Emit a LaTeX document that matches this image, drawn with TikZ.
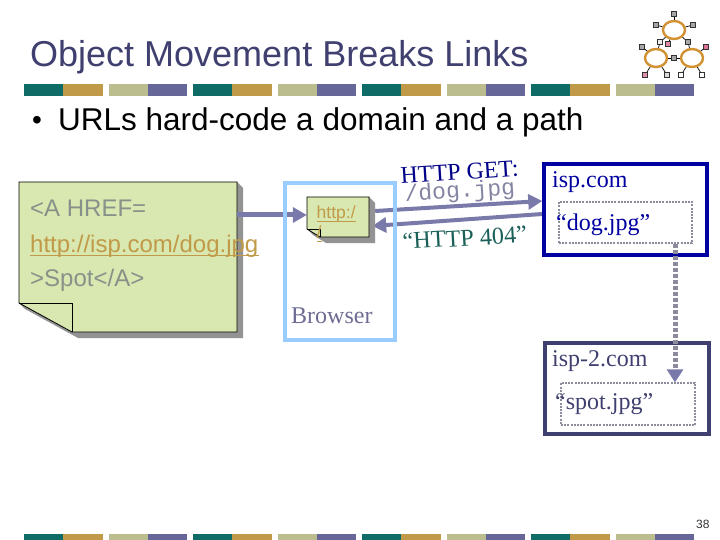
\documentclass[tikz,border=0pt]{standalone}
\usepackage{fontspec}
\setmainfont{Liberation Serif}
\setsansfont{Liberation Sans}
\setmonofont{Liberation Mono}
\usetikzlibrary{arrows.meta,shapes.geometric}

\definecolor{barteal}{HTML}{0F6B66}
\definecolor{bargold}{HTML}{C09A48}
\definecolor{barkhaki}{HTML}{BBBD8F}
\definecolor{barpurple}{HTML}{666699}
\definecolor{titleink}{HTML}{404070}
\definecolor{notegreen}{HTML}{D9E8B0}
\definecolor{noteink}{HTML}{87918A}
\definecolor{arrowink}{HTML}{7A7AAA}
\definecolor{ispblue}{HTML}{0000A0}
\definecolor{browserblue}{HTML}{99CCFF}
\definecolor{replyink}{HTML}{1A6058}
\definecolor{hopgray}{HTML}{8C8C9C}

\newcommand{\px}[1]{\fontsize{#1}{#1}\selectfont}

\tikzset{
  label/.style={anchor=base west,inner sep=0pt},
  sans24/.style={label,font=\sffamily\px{24},text=noteink},
  serif24/.style={label,font=\px{24}},
  link/.style={label,font=\sffamily,text=bargold},
  wire/.style={arrowink,line width=4pt,-{Triangle[length=14pt,width=15pt]}},
  hopwire/.style={hopgray,line width=5pt,dash pattern=on 4pt off 2pt,-{Triangle[length=13pt,width=16pt,color=arrowink]}},
  objbox/.style={draw=hopgray,line width=1.3pt,dash pattern=on 2pt off 1.2pt,inner sep=0pt},
  hostbox/.style={line width=3.5pt,inner sep=0pt},
  hub/.style={ellipse,draw=bargold!70!orange,fill=white,line width=2.4pt,minimum width=22pt,minimum height=18pt,inner sep=0pt},
  leaf/.style={rectangle,draw=black!80,fill=#1,line width=.7pt,minimum size=5pt,inner sep=0pt},
  leaf/.default={gray!70},
}

% sticky note: #1 left, #2 top, #3 right, #4 bottom, #5 fold x, #6 fold y, #7 shadow
\newcommand{\stickynote}[7]{
  \fill [gray!85] (#1+#7,#6+#7) -- (#5+#7,#4+#7) -- (#3+#7,#4+#7) -- (#3+#7,#2+#7) -- (#3,#2) -- (#1,#6) -- cycle;
  \draw [fill=notegreen,line width=.8pt] (#1,#2) -- (#3,#2) -- (#3,#4) -- (#5,#4) -- (#1,#6) -- cycle;
  \draw [line width=.8pt] (#1,#6) -- (#5,#6) -- (#5,#4);
}

\begin{document}
\begin{tikzpicture}[x=1pt,y=-1pt]
\useasboundingbox (0,0) rectangle (720,540);

% bars, top and bottom
\foreach \ytop/\ybot in {84/96,534/540}
  \foreach \k in {0,1,2,3} {
    \fill [barteal] (24+\k*169,\ytop) rectangle (63.2+\k*169,\ybot);
    \fill [bargold] (63.2+\k*169,\ytop) rectangle (102.5+\k*169,\ybot);
    \fill [barkhaki] (108.5+\k*169,\ytop) rectangle (147.7+\k*169,\ybot);
    \fill [barpurple] (147.7+\k*169,\ytop) rectangle (187+\k*169,\ybot);
  }

% title and bullet
\node [label,font=\sffamily\px{36},text=titleink] (title) at (30,67) {Object Movement Breaks Links};
\node [label,font=\sffamily\px{28},text=black] (bullet) at (32,130) {•};
\node [label,font=\sffamily\px{31.5},text=black] (point) at (58,131) {URLs hard-code a domain and a path};
\node [label,font=\sffamily\px{12},text=black!80] (pageno) at (696,528) {38};

% network icon
\node [hub] (hubA) at (674,30) {};
\node [hub] (hubL) at (656,58) {};
\node [hub] (hubR) at (692,58) {};
\node [leaf] (a1) at (674,14) {};
\node [leaf] (a2) at (656,25) {};
\node [leaf] (a3) at (693,25) {};
\node [leaf=white!85!gray] (a4) at (660,42) {};
\node [leaf=purple!45] (a5) at (668,44) {};
\node [leaf] (a6) at (688,42) {};
\node [leaf] (l1) at (642,47) {};
\node [leaf=purple!55] (r1) at (706,47) {};
\node [leaf] (m1) at (674,58) {};
\node [leaf=purple!45] (l2) at (645,75) {};
\node [leaf=gray!30] (l3) at (667,75) {};
\node [leaf=white] (r2) at (681,75) {};
\node [leaf=white] (r3) at (702,75) {};
\foreach \from/\to in {a1/hubA,a2/hubA,a3/hubA,a4/hubA,a5/hubA,a6/hubA,a4/hubL,a6/hubR,l1/hubL,r1/hubR,m1/hubL,m1/hubR,l2/hubL,l3/hubL,r2/hubR,r3/hubR}
  \draw [black,line width=.7pt] (\from) -- (\to);

% html page
\stickynote{19}{182}{237}{332}{72}{303}{6}
\node (page) at (128,257) [minimum width=218pt,minimum height=150pt,inner sep=0pt] {};
\node [sans24] (href) at (30,216.5) {<A HREF=};
\node [link,font=\sffamily\px{24}] (url) at (30,252) {http://isp.com/dog.jpg};
\draw [bargold,line width=1.4pt] ([yshift=-3.2pt]url.base west) -- ([yshift=-3.2pt]url.base east);
\node [sans24] (spot) at (30,286) {>Spot</A>};

% cached copy in the browser, named first for the wires
\node (cache) at (338,217) [minimum width=62pt,minimum height=40pt,inner sep=0pt] {};
\node [hostbox,draw=none,fill=white,minimum width=163pt,minimum height=91pt] (isp) at (625.5,209.5) {};

% requests
\coordinate (linkTip) at ([yshift=2pt]cache.west);
\draw [wire,line width=5pt] (page.east |- linkTip) -- (linkTip);
\draw [wire] ([xshift=6pt,yshift=6pt]cache.east) -- ([yshift=8.5pt]isp.west);
\draw [wire] ([yshift=-4.5pt]isp.west) -- ([xshift=3pt,yshift=-9pt]cache.east);

% browser
\node [hostbox,draw=browserblue,minimum width=110pt,minimum height=157pt] (browser) at (340,261.5) {};
\node [serif24,text=gray!85!blue] (browserlab) at (291,323) {Browser};
\stickynote{307}{197}{369}{237}{320}{229}{6}
\node [link,font=\sffamily\px{17.5}] (cacheurl) at (316.5,218.5) {http:/};
\draw [bargold,line width=1pt] ([yshift=-2.6pt]cacheurl.base west) -- ([yshift=-2.6pt]cacheurl.base east);
\node [link,font=\sffamily\px{17.5}] (cachewrap) at (316.5,239) {/};
\draw [bargold,line width=1pt] ([yshift=-2.6pt]cachewrap.base west) -- ([yshift=-2.6pt]cachewrap.base east);

% servers
\node [hostbox,draw=ispblue,minimum width=163pt,minimum height=91pt] (ispframe) at (isp) {};
\node [objbox,minimum width=133pt,minimum height=41pt] (dog) at (625.5,222.5) {};
\node [serif24,text=ispblue] (isplab) at (552,188) {isp.com};
\node [serif24,text=ispblue] (doglab) at (556,230) {“dog.jpg”};
\node [hostbox,draw=titleink,fill=white,minimum width=164pt,minimum height=91pt] (isptwo) at (627,388.5) {};
\node [objbox,minimum width=134pt,minimum height=42pt] (spotobj) at (628,404) {};
\node [serif24,text=titleink] (isptwolab) at (552,366) {isp-2.com};
\node [serif24,text=titleink] (spotlab) at (555,409) {“spot.jpg”};
\draw [hopwire] ([xshift=49.5pt]dog.south) -- ([xshift=47pt]spotobj.north);

% message labels
\node [label,rotate=3.7,font=\px{24},text=ispblue!85!black] (getlab) at (401,184) {HTTP GET:};
\node [label,rotate=3.7,font=\ttfamily\px{23},text=titleink!65] (pathlab) at (405,201.5) {/dog.jpg};
\node [label,rotate=3.3,font=\px{24.2},text=replyink] (replylab) at (403,249.5) {“HTTP 404”};
\end{tikzpicture}
\end{document}
